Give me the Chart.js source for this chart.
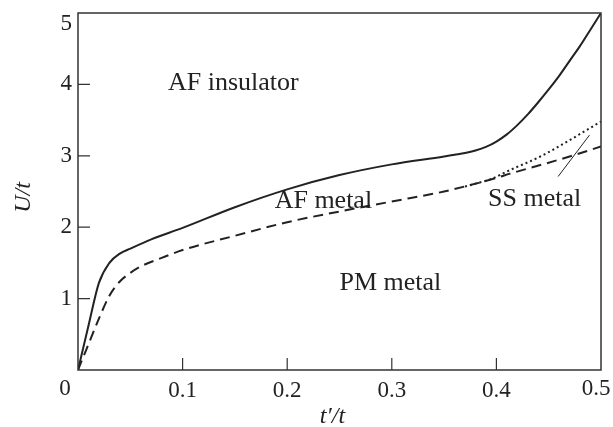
<!DOCTYPE html>
<html>
<head>
<meta charset="utf-8">
<script src="https://cdn.jsdelivr.net/npm/chart.js@4/dist/chart.umd.min.js"></script>
<style>
html,body{margin:0;padding:0;background:#fff;}
#wrap{width:613px;height:427px;position:relative;}
</style>
</head>
<body>
<div id="wrap"><canvas id="c" width="613" height="427"></canvas></div>
<script>
// ---- data ----
const tSolid  = [0, 0.01, 0.02, 0.03, 0.04, 0.05, 0.07, 0.10, 0.15, 0.20, 0.25, 0.30, 0.35, 0.36, 0.37, 0.38, 0.39, 0.40, 0.41, 0.42, 0.43, 0.44, 0.45, 0.46, 0.47, 0.48, 0.49, 0.50];
const uSolid  = [0, 0.62, 1.22, 1.50, 1.63, 1.70, 1.83, 1.99, 2.28, 2.53, 2.73, 2.88, 2.99, 3.015, 3.04, 3.075, 3.125, 3.20, 3.30, 3.43, 3.58, 3.75, 3.93, 4.12, 4.33, 4.54, 4.77, 5.00];
const tDashed = [0, 0.01, 0.02, 0.03, 0.04, 0.05, 0.06, 0.08, 0.10, 0.15, 0.20, 0.25, 0.30, 0.35, 0.375, 0.40, 0.413, 0.442, 0.47, 0.50];
const uDashed = [0, 0.36, 0.72, 1.04, 1.24, 1.36, 1.45, 1.57, 1.68, 1.88, 2.07, 2.22, 2.36, 2.50, 2.59, 2.69, 2.75, 2.87, 2.99, 3.13];
const tDotted = [0.37, 0.38, 0.394, 0.413, 0.442, 0.47, 0.50];
const uDotted = [2.57, 2.61, 2.67, 2.80, 2.99, 3.22, 3.48];
const tPointer = [0.459, 0.489];
const uPointer = [2.71, 3.29];
const xTickValues = [0, 0.1, 0.2, 0.3, 0.4, 0.5];
const yTickValues = [0, 1, 2, 3, 4, 5];
const xTitle = 't\u2032/t';
const yTitle = 'U/t';
const regionLabels = ['AF insulator', 'AF metal', 'PM metal', 'SS metal'];
const regionT = [0.086, 0.188, 0.250, 0.392];
const regionU = [3.92, 2.27, 1.12, 2.29];

const pts = (xs, ys) => xs.map((x, i) => ({x: x, y: ys[i]}));
const INK = '#222';
const SERIF = '"Liberation Serif", "DejaVu Serif", serif';
const TICK_FONT = '23px ' + SERIF;

const decor = {
  id: 'decor',
  afterDatasetsDraw(chart) {
    const {ctx, chartArea: a, scales: {x, y}} = chart;
    ctx.save();
    // frame
    ctx.strokeStyle = '#333';
    ctx.lineWidth = 1.5;
    ctx.strokeRect(a.left, a.top, a.right - a.left, a.bottom - a.top);
    // inward ticks
    ctx.lineWidth = 1.2;
    ctx.beginPath();
    xTickValues.forEach(v => {
      if (v <= 0 || v >= 0.5) return;
      const px = x.getPixelForValue(v);
      ctx.moveTo(px, a.bottom); ctx.lineTo(px, a.bottom - 12);
    });
    yTickValues.forEach(v => {
      if (v <= 0 || v >= 5) return;
      const py = y.getPixelForValue(v);
      ctx.moveTo(a.left, py); ctx.lineTo(a.left + 12, py);
    });
    ctx.stroke();
    // region labels
    ctx.fillStyle = INK;
    ctx.font = '26px ' + SERIF;
    ctx.textAlign = 'left';
    ctx.textBaseline = 'alphabetic';
    regionLabels.forEach((s, i) => {
      ctx.fillText(s, x.getPixelForValue(regionT[i]), y.getPixelForValue(regionU[i]));
    });
    // end tick labels kept inside the page
    ctx.font = TICK_FONT;
    ctx.textBaseline = 'alphabetic';
    ctx.textAlign = 'center';
    const xLabBase = y.getPixelForValue(0) + 25;
    ctx.fillText('0', x.getPixelForValue(0) - 13, xLabBase);
    ctx.fillText('0.5', x.getPixelForValue(0.5) - 5, xLabBase);
    ctx.textAlign = 'right';
    ctx.fillText('5', a.left - 6, y.getPixelForValue(5) + 17);
    // axis titles
    ctx.font = 'italic 24px ' + SERIF;
    ctx.textAlign = 'center';
    ctx.fillText(xTitle, (a.left + a.right) / 2 - 7, 423);
    ctx.translate(30, (a.top + a.bottom) / 2 + 6);
    ctx.rotate(-Math.PI / 2);
    ctx.fillText(yTitle, 0, 0);
    ctx.restore();
  }
};

new Chart(document.getElementById('c'), {
  type: 'line',
  data: {
    datasets: [
      {data: pts(tSolid, uSolid), borderColor: INK, borderWidth: 2, pointRadius: 0, cubicInterpolationMode: 'monotone', fill: false},
      {data: pts(tDashed, uDashed), borderColor: INK, borderWidth: 2, borderDash: [10, 6], pointRadius: 0, cubicInterpolationMode: 'monotone', fill: false},
      {data: pts(tDotted, uDotted), borderColor: INK, borderWidth: 2, borderDash: [2, 3], pointRadius: 0, cubicInterpolationMode: 'monotone', fill: false},
      {data: pts(tPointer, uPointer), borderColor: INK, borderWidth: 1, pointRadius: 0, tension: 0, fill: false}
    ]
  },
  options: {
    responsive: false,
    animation: false,
    events: [],
    layout: {padding: {left: 0, right: 12, top: 13, bottom: 0}},
    plugins: {legend: {display: false}, tooltip: {enabled: false}},
    scales: {
      x: {
        type: 'linear', min: 0, max: 0.5,
        afterBuildTicks: s => { s.ticks = xTickValues.map(v => ({value: v})); },
        afterFit: s => { s.height = 57; s.paddingLeft = 0; s.paddingRight = 0; },
        grid: {display: false, drawTicks: false},
        border: {display: false},
        ticks: {
          padding: 7, color: INK, font: {family: SERIF, size: 23},
          maxRotation: 0, autoSkip: false,
          callback: v => (v === 0 || v === 0.5 ? '' : String(Math.round(v * 10) / 10))
        }
      },
      y: {
        type: 'linear', min: 0, max: 5,
        afterBuildTicks: s => { s.ticks = yTickValues.map(v => ({value: v})); },
        afterFit: s => { s.width = 78; s.paddingTop = 0; s.paddingBottom = 0; },
        grid: {display: false, drawTicks: false},
        border: {display: false},
        ticks: {
          padding: 6, color: INK, font: {family: SERIF, size: 23},
          callback: v => (v === 0 || v === 5 ? '' : String(v))
        }
      }
    }
  },
  plugins: [decor]
});
</script>
</body>
</html>
